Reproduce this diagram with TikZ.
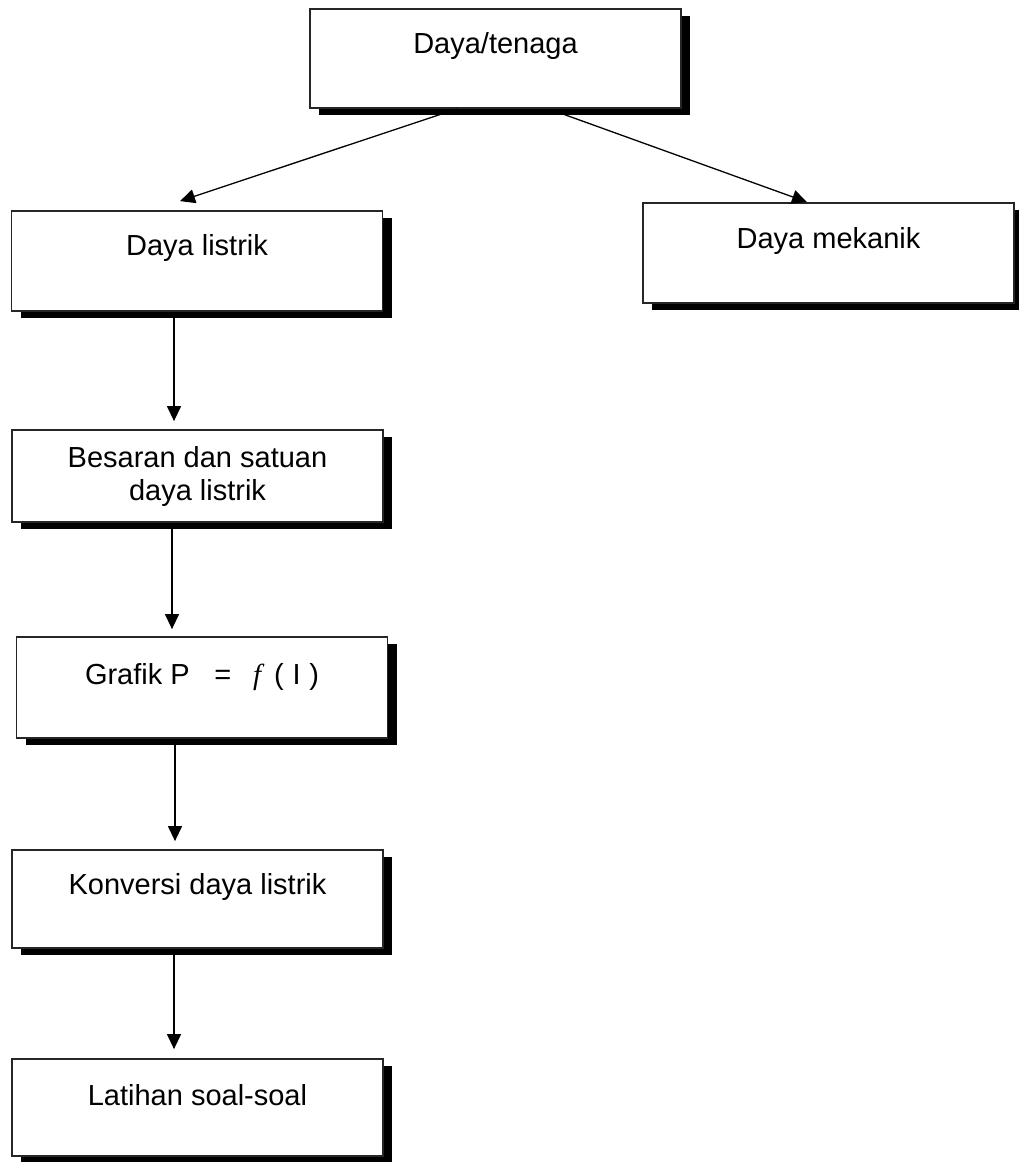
\documentclass[tikz,border=0pt]{standalone}
\usepackage{fontspec}
\setmainfont{Liberation Sans}
\newfontfamily\serifit{Liberation Serif}
\usetikzlibrary{shadows,arrows.meta}
\begin{document}
\begin{tikzpicture}[x=1pt,y=-1pt,
  box/.style={draw=black!85, line width=1.8pt, fill=white, inner sep=0pt,
    minimum width=371pt,
    drop shadow={shadow xshift=9pt, shadow yshift=-7pt, fill=black, opacity=1}},
  txt/.style={anchor=base, font=\fontsize{29}{33}\selectfont, inner sep=0pt, align=center},
  arr/.style={line width=1.3pt, -{Triangle[length=15pt,width=14pt]}}]
\useasboundingbox (0,0) rectangle (1018,1162);
% boxes
\node[box, minimum height=99pt]  (a) at (495.5,58.5) {};
\node[box, minimum height=100pt] (b) at (197,261) {};
\node[box, minimum height=100pt] (c) at (828.5,253) {};
\node[box, minimum height=92pt]  (d) at (197.5,476) {};
\node[box, minimum height=101pt] (e) at (202,687.5) {};
\node[box, minimum height=98pt]  (f) at (197.5,899) {};
\node[box, minimum height=97pt]  (g) at (197.5,1107.5) {};
% texts
\node[txt] (ta) at (495.5,53) {Daya/tenaga};
\node[txt] (tb) at (197,255) {Daya listrik};
\node[txt] (tc) at (828.5,248) {Daya mekanik};
\node[txt] (td) at (197.5,500) {Besaran dan satuan\\daya listrik};
\node[txt] (te) at (202,684) {Grafik P\hspace{0.85em}=\hspace{0.75em}{\serifit\itshape f}\hspace{0.45em}(\hspace{0.3em}I\hspace{0.3em})};
\node[txt] (tf) at (197.5,894) {Konversi daya listrik};
\node[txt] (tg) at (197.5,1105) {Latihan soal-soal};
% connectors
\draw[arr] ([xshift=-38.5pt]a.south) -- ([xshift=-17pt,yshift=9pt]b.north);
\draw[arr] ([xshift=61.5pt,yshift=-3pt]a.south) -- ([xshift=-21.5pt]c.north);
\draw[arr] ([xshift=-23pt]b.south) -- ([xshift=-23.5pt,yshift=8pt]d.north);
\draw[arr] ([xshift=-25.5pt]d.south) -- ([xshift=-30pt,yshift=7pt]e.north);
\draw[arr] ([xshift=-27pt]e.south) -- ([xshift=-22.5pt,yshift=8pt]f.north);
\draw[arr] ([xshift=-23.5pt]f.south) -- ([xshift=-23.5pt,yshift=9pt]g.north);
\end{tikzpicture}
\end{document}
